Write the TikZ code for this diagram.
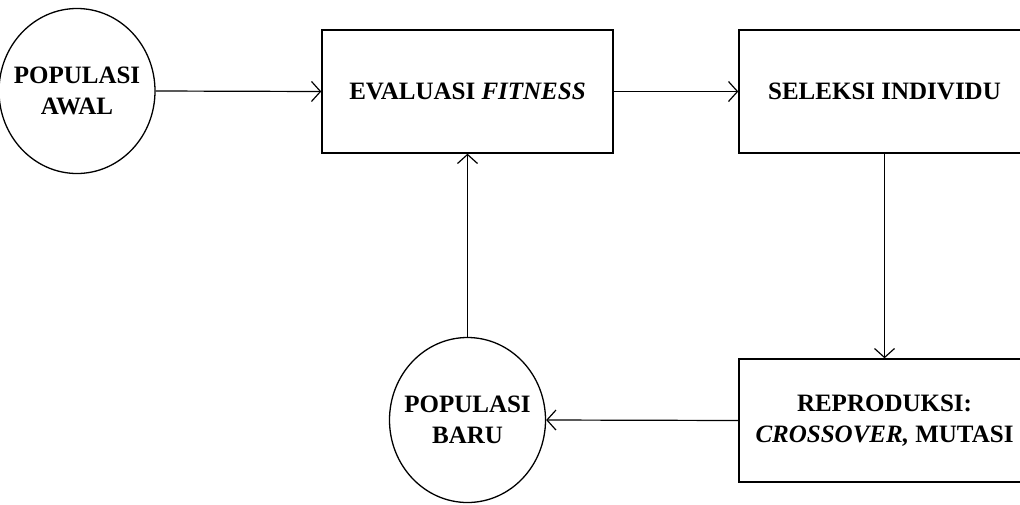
\documentclass[tikz,border=0pt]{standalone}
\usepackage{fontspec}
\setmainfont{Liberation Serif}
\usetikzlibrary{arrows.meta,shapes.geometric}
\begin{document}
\begin{tikzpicture}[x=1pt,y=-1pt,
  every node/.style={font=\fontsize{25}{31}\selectfont\bfseries, align=center, inner sep=0pt},
  stepbox/.style={draw, line width=1.4pt, minimum width=291pt, minimum height=123pt},
  popnode/.style={draw, ellipse, line width=1.3pt, minimum width=156pt, minimum height=165pt},
  flow/.style={line width=1.2pt, -{Straight Barb[length=9pt,width=20pt,line width=1.2pt]}}]
\useasboundingbox (0,0) rectangle (1020,504);
\fill[white] (0,0) rectangle (1020,504);
\node[popnode, label={[align=center]center:POPULASI\\AWAL}] (awal) at (77,91) {};
\node[stepbox] (eval) at (467.5,91.5) {EVALUASI \textit{FITNESS}};
\node[stepbox] (sel) at (884.5,91.5) {SELEKSI INDIVIDU};
\node[stepbox] (rep) at (884.5,420.5) {REPRODUKSI:\\\textit{CROSSOVER,} MUTASI};
\node[popnode, label={[align=center]center:POPULASI\\BARU}] (baru) at (467.5,420) {};
\draw[flow] (awal.east) -- (eval.west);
\draw[flow] (eval.east) -- (sel.west);
\draw[flow] (sel.south) -- (rep.north);
\draw[flow] (rep.west) -- (baru.east);
\draw[flow] (baru.north) -- (eval.south);
\end{tikzpicture}
\end{document}
